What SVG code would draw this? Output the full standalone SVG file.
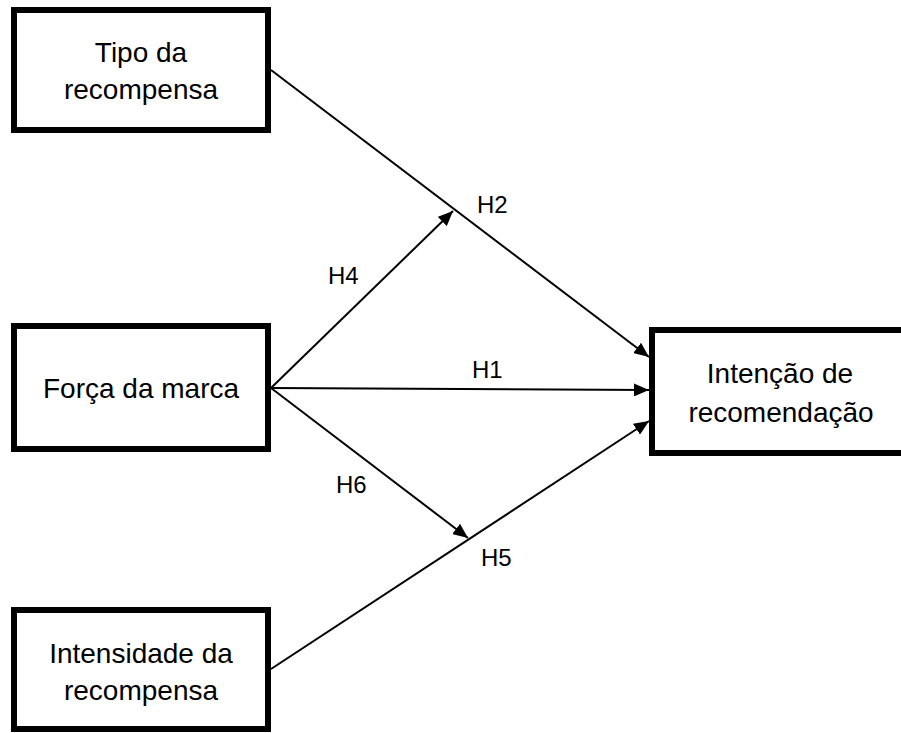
<svg xmlns="http://www.w3.org/2000/svg" width="901" height="733" viewBox="0 0 901 733">
  <style>
    .box { fill: #ffffff; stroke: #000000; stroke-width: 6; }
    .lbl { font-family: "Liberation Sans", Arial, sans-serif; font-size: 28px; fill: #000000; text-anchor: middle; }
    .h { font-family: "Liberation Sans", Arial, sans-serif; font-size: 24px; fill: #000000; }
    .edge { stroke: #000000; stroke-width: 2; fill: none; }
  </style>
  <defs>
    <marker id="arrow" markerUnits="userSpaceOnUse" viewBox="0 0 15 13" markerWidth="15" markerHeight="13" refX="15" refY="6.5" orient="auto">
      <path d="M0,0 L15,6.5 L0,13 z" fill="#000000"/>
    </marker>
  </defs>
  <rect x="0" y="0" width="901" height="733" fill="#ffffff"/>

  <g id="connectors">
    <line class="edge" x1="271" y1="70" x2="649" y2="357" marker-end="url(#arrow)"/>
    <line class="edge" x1="271" y1="388" x2="649" y2="390" marker-end="url(#arrow)"/>
    <line class="edge" x1="271" y1="669" x2="649" y2="421" marker-end="url(#arrow)"/>
    <line class="edge" x1="271" y1="388" x2="453" y2="211" marker-end="url(#arrow)"/>
    <line class="edge" x1="271" y1="388" x2="468" y2="538" marker-end="url(#arrow)"/>
    <text class="h" x="477" y="213">H2</text>
    <text class="h" x="328" y="284">H4</text>
    <text class="h" x="472" y="378">H1</text>
    <text class="h" x="336" y="493">H6</text>
    <text class="h" x="481" y="566">H5</text>
  </g>

  <g id="tipo">
    <rect class="box" x="14" y="10" width="254" height="120"/>
    <text class="lbl" x="141" y="62">Tipo da</text>
    <text class="lbl" x="141" y="99">recompensa</text>
  </g>

  <g id="forca">
    <rect class="box" x="14" y="326" width="254" height="123"/>
    <text class="lbl" x="141" y="398">Força da marca</text>
  </g>

  <g id="intensidade">
    <rect class="box" x="14" y="610" width="254" height="119"/>
    <text class="lbl" x="141" y="663">Intensidade da</text>
    <text class="lbl" x="141" y="700">recompensa</text>
  </g>

  <g id="intencao">
    <rect class="box" x="652" y="330" width="252" height="123"/>
    <text class="lbl" x="780" y="383">Intenção de</text>
    <text class="lbl" x="781" y="422">recomendação</text>
  </g>
</svg>
